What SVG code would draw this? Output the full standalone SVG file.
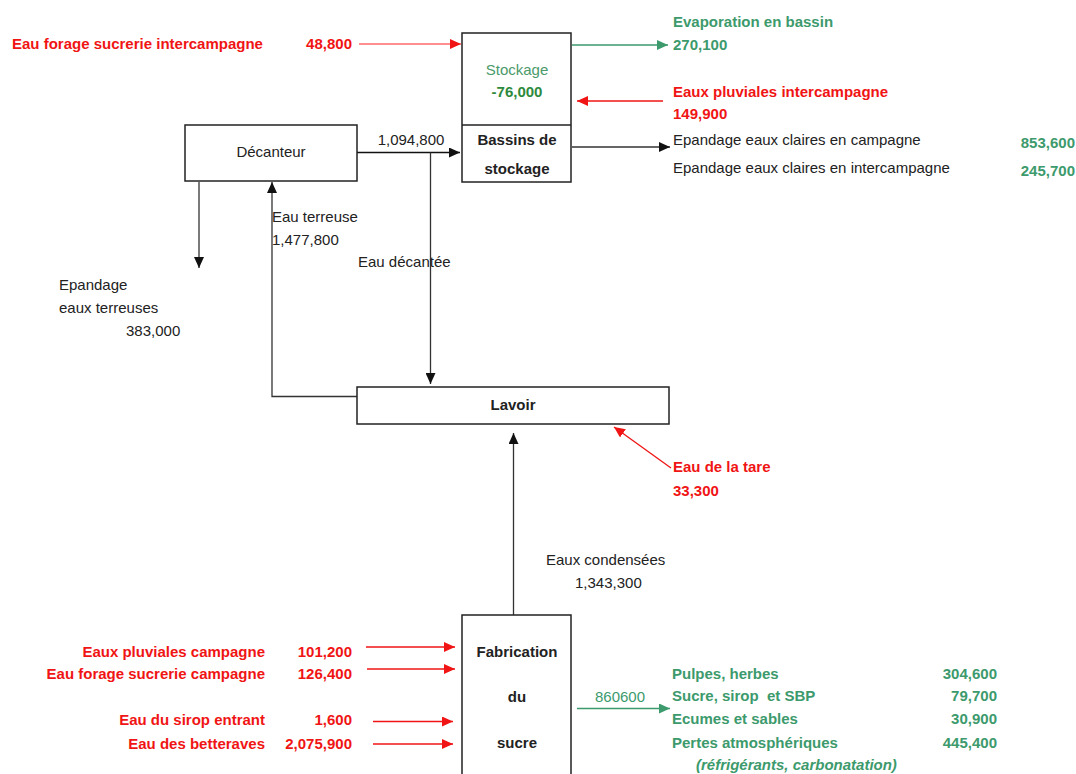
<svg xmlns="http://www.w3.org/2000/svg" width="1076" height="774" viewBox="0 0 1076 774">
<defs>
<style>
text{font-family:"Liberation Sans",Arial,sans-serif;font-size:15px}
.b{font-weight:bold}
.red{fill:#f01414}
.grn{fill:#3c9a6c}
.dk{fill:#222}
.box{fill:#fff;stroke:#222;stroke-width:1.5}
.ln{fill:none;stroke:#333;stroke-width:1.3}
.lr{fill:none;stroke:#f01414;stroke-width:1.3}
.lg{fill:none;stroke:#3c9a6c;stroke-width:1.5}
.m{text-anchor:middle}
.e{text-anchor:end}
</style>
<marker id="ak" markerUnits="userSpaceOnUse" markerWidth="12" markerHeight="10" refX="11" refY="5" orient="auto"><path d="M0,0 L11,5 L0,10 z" fill="#111"/></marker>
<marker id="ar" markerUnits="userSpaceOnUse" markerWidth="12" markerHeight="10" refX="11" refY="5" orient="auto"><path d="M0,0 L11,5 L0,10 z" fill="#f01414"/></marker>
<marker id="ag" markerUnits="userSpaceOnUse" markerWidth="12" markerHeight="10" refX="11" refY="5" orient="auto"><path d="M0,0 L11,5 L0,10 z" fill="#3c9a6c"/></marker>
</defs>
<rect width="1076" height="774" fill="#fff"/>

<g id="connectors">
<line class="lr" x1="359" y1="44" x2="461" y2="44" style="stroke:#ff6a6a" marker-end="url(#ar)"/>
<line class="lg" x1="572" y1="45" x2="668" y2="45" marker-end="url(#ag)"/>
<line class="lr" x1="663" y1="101" x2="577" y2="101" marker-end="url(#ar)"/>
<line class="ln" x1="572" y1="147" x2="670" y2="147" marker-end="url(#ak)"/>
<line class="ln" x1="357" y1="152.5" x2="460" y2="152.5" style="stroke:#111" marker-end="url(#ak)"/>
<line class="ln" x1="430.5" y1="152.5" x2="430.5" y2="384" marker-end="url(#ak)"/>
<line class="ln" x1="199" y1="182" x2="199" y2="268" marker-end="url(#ak)"/>
<polyline class="ln" points="357,396.5 272,396.5 272,182" marker-end="url(#ak)"/>
<line class="ln" x1="513.5" y1="615" x2="513.5" y2="433" marker-end="url(#ak)"/>
<line class="lr" x1="671" y1="468" x2="614" y2="427" marker-end="url(#ar)"/>
<line class="lr" x1="366" y1="647" x2="455" y2="647" marker-end="url(#ar)"/>
<line class="lr" x1="367" y1="669" x2="455" y2="669" marker-end="url(#ar)"/>
<line class="lr" x1="373" y1="721.5" x2="453" y2="721.5" marker-end="url(#ar)"/>
<line class="lr" x1="373" y1="744" x2="453" y2="744" marker-end="url(#ar)"/>
<line class="lg" x1="577" y1="708.5" x2="670" y2="708.5" marker-end="url(#ag)"/>
</g>

<g id="stockage">
<rect class="box" x="462" y="33" width="109" height="149"/>
<line x1="462" y1="125" x2="571" y2="125" stroke="#222" stroke-width="1.5"/>
<text class="m" x="517" y="75" fill="#4a9a6a">Stockage</text>
<text class="m b" x="517" y="97" fill="#2d8a3c">-76,000</text>
<text class="m b dk" x="517" y="145">Bassins de</text>
<text class="m b dk" x="517" y="174">stockage</text>
</g>

<g id="decanteur">
<rect class="box" x="185" y="125" width="172" height="56"/>
<text class="m dk" x="271" y="157">Décanteur</text>
</g>

<g id="lavoir">
<rect class="box" x="357" y="387" width="312" height="37"/>
<text class="m b dk" x="513" y="410">Lavoir</text>
</g>

<g id="fabrication">
<rect class="box" x="462" y="615" width="109" height="170"/>
<text class="m b dk" x="517" y="657">Fabrication</text>
<text class="m b dk" x="517" y="702">du</text>
<text class="m b dk" x="517" y="748">sucre</text>
</g>

<g id="labels">
<text class="b red" x="12" y="49">Eau forage sucrerie intercampagne</text>
<text class="b red e" x="352" y="49">48,800</text>
<text class="b grn" x="673" y="27">Evaporation en bassin</text>
<text class="b grn" x="673" y="50">270,100</text>
<text class="b red" x="673" y="97">Eaux pluviales intercampagne</text>
<text class="b red" x="673" y="119">149,900</text>
<text class="dk" x="673" y="145">Epandage eaux claires en campagne</text>
<text class="dk" x="673" y="173">Epandage eaux claires en intercampagne</text>
<text class="b grn e" x="1075" y="148">853,600</text>
<text class="b grn e" x="1075" y="176">245,700</text>
<text class="m dk" x="411" y="145">1,094,800</text>
<text class="dk" x="272" y="222">Eau terreuse</text>
<text class="dk" x="272" y="245">1,477,800</text>
<text class="dk" x="358" y="267">Eau décantée</text>
<text class="dk" x="59" y="290">Epandage</text>
<text class="dk" x="59" y="313">eaux terreuses</text>
<text class="dk" x="126" y="336">383,000</text>
<text class="b red" x="673" y="472">Eau de la tare</text>
<text class="b red" x="673" y="496">33,300</text>
<text class="dk" x="546" y="565">Eaux condensées</text>
<text class="dk" x="575" y="588">1,343,300</text>
<text class="b red e" x="265" y="657">Eaux pluviales campagne</text>
<text class="b red e" x="352" y="657">101,200</text>
<text class="b red e" x="265" y="679">Eau forage sucrerie campagne</text>
<text class="b red e" x="352" y="679">126,400</text>
<text class="b red e" x="265" y="725">Eau du sirop entrant</text>
<text class="b red e" x="352" y="725">1,600</text>
<text class="b red e" x="265" y="749">Eau des betteraves</text>
<text class="b red e" x="352" y="749">2,075,900</text>
<text class="m grn" x="620" y="702">860600</text>
<text class="b grn" x="672" y="679">Pulpes, herbes</text>
<text class="b grn" x="672" y="701">Sucre, sirop&#160; et SBP</text>
<text class="b grn" x="672" y="724">Ecumes et sables</text>
<text class="b grn" x="672" y="748">Pertes atmosphériques</text>
<text class="b grn" x="696" y="770" font-style="italic">(réfrigérants, carbonatation)</text>
<text class="b grn e" x="997" y="679">304,600</text>
<text class="b grn e" x="997" y="701">79,700</text>
<text class="b grn e" x="997" y="724">30,900</text>
<text class="b grn e" x="997" y="748">445,400</text>
</g>
</svg>
